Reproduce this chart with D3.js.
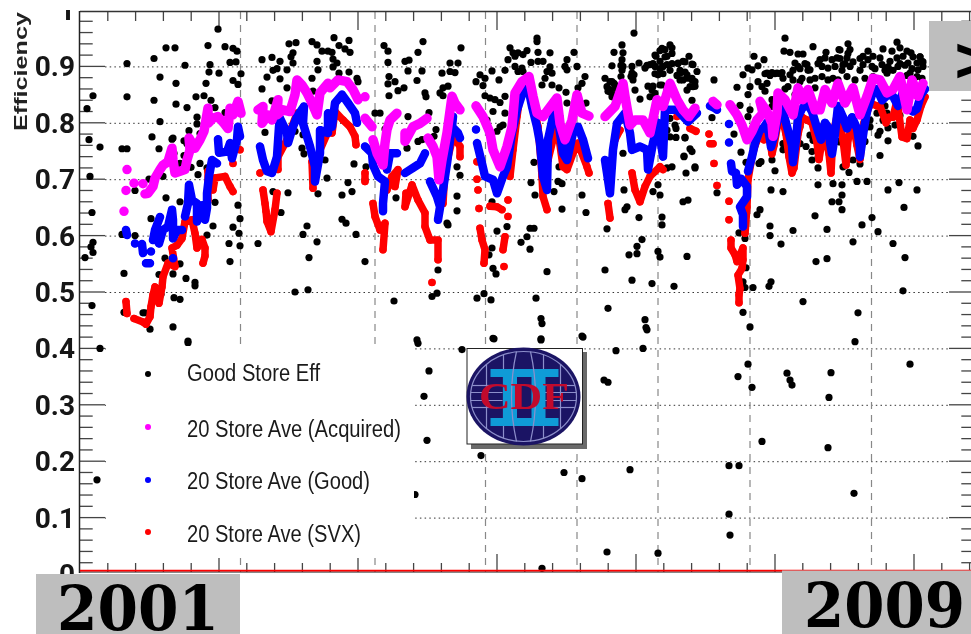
<!DOCTYPE html>
<html><head><meta charset="utf-8">
<script src="https://cdn.jsdelivr.net/npm/d3@7/dist/d3.min.js"></script>
<style>html,body{margin:0;padding:0;background:#fff;overflow:hidden}svg{display:block;filter:blur(.4px)}</style>
</head><body><svg id="c" width="971" height="634"></svg>
<script>
const yTickLabels=["0","0.1","0.2","0.3","0.4","0.5","0.6","0.7","0.8","0.9","1"];
const yearLabels=["2001","2009"];
const legendLabels=["Good Store Eff","20 Store Ave (Acquired)","20 Store Ave (Good)","20 Store Ave (SVX)"];
const seriesColors=["#000000","#ff00ff","#0000ff","#ff0000"];
const storeBreaks=[160.5,295,405.5,497,578,670,791.5];

const goodStoreEff=[[47,.905],[13,.848],[7,.825],[47,.846],[74,.914],[86,.933],[95,.933],[80,.881],[105,.902],[96,.87],[74,.84],[96,.833],[107,.827],[80,.802],[72,.775],[79,.754],[92,.771],[93,.773],[20,.757],[9,.77],[42,.754],[47,.754],[10,.705],[12,.641],[55,.68],[69,.7],[83,.705],[86,.667],[100,.66],[71,.63],[42,.602],[55,.6],[13,.588],[11,.58],[13,.57],[5,.561],[85,.56],[100,.55],[44,.533],[93,.532],[79,.531],[106,.524],[115,.517],[115,.511],[94,.49],[100,.487],[81,.496],[12,.476],[44,.464],[63,.463],[65,.463],[70,.434],[93,.438],[108,.413],[20,.4],[108,.41],[17,.167],
[138,.966],[128,.937],[145,.935],[153,.932],[157,.927],[130,.903],[150,.907],[156,.908],[129,.89],[139,.888],[161,.887],[126,.87],[153,.875],[158,.868],[116,.846],[124,.848],[131,.84],[135,.827],[145,.818],[117,.81],[117,.798],[109,.786],[120,.781],[104,.768],[107,.763],[94,.746],[104,.742],[100,.728],[120,.728],[111,.721],[127,.72],[118,.708],[135,.659],[158,.654],[160,.63],[133,.617],[153,.615],[159,.604],[127,.601],[149,.586],[160,.582],[150,.554],
[182,.912],[192,.916],[200,.909],[209,.94],[216,.942],[213,.924],[211,.917],[213,.906],[207,.894],[197,.896],[193,.893],[187,.881],[200,.878],[182,.86],[207,.862],[192,.839],[185,.783],[178,.586],[193,.678],[208,.676],[201,.641],[227,.617],[223,.602],[237,.589],[229,.561],[215,.5],[228,.504],[232,.944],[237,.938],[242,.927],[237,.909],[248,.927],[238,.894],[232,.879],[233,.856],[215,.785],[223,.779],[222,.755],[224,.745],[245,.734],[238,.674],[247,.702],
[254,.951],[269,.946],[259,.937],[265,.931],[270,.925],[252,.925],[253,.913],[257,.906],[253,.899],[259,.888],[269,.89],[277,.879],[278,.873],[304,.937],[308,.927],[343,.944],[338,.925],[381,.933],[308,.907],[325,.909],[329,.911],[328,.892],[342,.892],[309,.882],[370,.906],[378,.906],[370,.891],[375,.889],[362,.888],[337,.875],[315,.873],[308,.869],[318,.857],[324,.862],[309,.848],[345,.853],[346,.846],[363,.862],[360,.853],[368,.865],[363,.848],[349,.818],[295,.817],[300,.817],[328,.811],[356,.788],[354,.776],[338,.767],[342,.77],[327,.755],[305,.789],[274,.727],[286,.722],[285,.699],[268,.694],[272,.678],[262,.672],[316,.667],[262,.629],[266,.622],[276,.602],[285,.554],[377,.722],[380,.707],[377,.67],[377,.644],[367,.622],[368,.619],[358,.539],[357,.498],[352,.492],[314,.484],[337,.415],
[396,.873],[400,.885],[405,.879],[403,.866],[412,.892],[425,.893],[419,.876],[405,.848],[410,.844],[415,.841],[420,.836],[425,.847],[413,.82],[425,.817],[420,.793],[423,.796],[417,.785],[407,.805],[402,.812],[430,.933],[433,.924],[438,.924],[443,.921],[447,.928],[428,.912],[435,.918],[457,.95],[457,.944],[458,.925],[470,.924],[458,.909],[463,.909],[451,.907],[435,.9],[442,.897],[443,.891],[438,.891],[470,.899],[467,.891],[472,.888],[487,.912],[485,.9],[487,.894],[494,.925],[497,.9],[505,.882],[502,.87],[465,.879],[472,.867],[462,.867],[479,.862],[486,.854],[498,.862],[506,.835],[487,.835],[480,.81],[454,.73],[451,.694],[479,.722],[478,.696],[482,.692],[474,.678],[502,.672],[506,.641],[455,.672],[482,.647],[450,.613],[454,.613],[447,.598],[441,.588],[450,.576],[467,.536],[413,.542],[416,.532],[412,.578],[409,.566],[417,.608],[427,.616],[412,.66],[404,.497],[397,.489],[411,.486],[456,.489],[461,.453],[462,.444],[461,.417],[413,.418],[502,.422],
[554,.959],[542,.938],[534,.925],[543,.924],[542,.912],[543,.9],[532,.901],[552,.9],[559,.906],[552,.888],[554,.885],[525,.879],[532,.873],[535,.867],[530,.859],[533,.85],[528,.856],[560,.842],[580,.928],[585,.93],[592,.933],[576,.918],[580,.909],[587,.918],[565,.897],[570,.903],[575,.9],[583,.9],[587,.903],[578,.885],[598,.906],[603,.909],[609,.918],[613,.903],[600,.888],[607,.885],[568,.865],[573,.865],[580,.867],[587,.859],[603,.876],[612,.876],[615,.865],[617,.891],[543,.746],[592,.722],[587,.72],[604,.74],[612,.749],[615,.72],[606,.711],[595,.796],[605,.773],[578,.69],[580,.672],[573,.678],[544,.681],[603,.66],[608,.663],[545,.646],[547,.651],[559,.632],[582,.633],[582,.619],[527,.612],[562,.593],[557,.581],[549,.566],[557,.568],[578,.572],[580,.562],[607,.563],[525,.539],[552,.521],[572,.515],[594,.51],[528,.471],[565,.451],[566,.437],
[567,.902],[573,.905],[575,.92],[582,.932],[590,.938],[592,.923],[585,.917],[592,.905],[580,.896],[575,.887],[583,.887],[590,.893],[605,.908],[598,.905],[612,.904],[600,.893],[605,.89],[597,.884],[600,.876],[607,.879],[612,.879],[615,.873],[530,.873],[534,.87],[527,.864],[530,.855],[536,.861],[532,.846],[553,.876],[555,.858],[572,.858],[582,.867],[570,.846],[575,.852],[607,.858],[610,.864],[613,.864],[612,.84],[551,.882],[541,.882],[541,.902],[542,.893],[596,.79],[587,.787],[596,.774],[605,.774],[590,.775],[590,.808],[610,.754],[604,.741],[615,.722],
[634,.876],[632,.809],[637,.676],[660,.831],[654,.78],[661,.748],[666,.73],[659,.605],[665,.595],[666,.543],[663,.518],[665,.508],[673,.508],[663,.464],[670,.438],
[705,.95],[733,.935],[704,.927],[710,.925],[674,.918],[684,.912],[718,.922],[723,.922],[746,.925],[768,.94],[759,.93],[770,.93],[817,.943],[803,.931],[788,.927],[812,.927],[820,.933],[827,.927],[831,.924],[840,.917],[668,.897],[663,.885],[672,.894],[678,.901],[687,.888],[692,.889],[697,.888],[702,.889],[715,.906],[718,.9],[727,.903],[730,.894],[740,.912],[745,.915],[752,.912],[757,.915],[742,.9],[748,.897],[755,.9],[710,.885],[767,.915],[763,.903],[770,.9],[783,.918],[788,.912],[793,.918],[783,.903],[792,.9],[800,.915],[802,.903],[810,.909],[817,.915],[823,.918],[810,.894],[818,.9],[828,.906],[837,.906],[842,.909],[838,.894],[843,.9],[830,.888],[678,.873],[670,.864],[668,.85],[657,.863],[682,.864],[685,.856],[692,.841],[692,.829],[670,.823],[668,.811],[703,.879],[708,.864],[720,.873],[730,.876],[735,.862],[742,.882],[748,.876],[753,.879],[758,.876],[767,.882],[775,.876],[785,.879],[793,.882],[807,.888],[820,.882],[705,.86],[715,.85],
[725,.905],[738,.905],[760,.929],[768,.923],[760,.914],[765,.905],[773,.908],[780,.914],[808,.899],[820,.905],[825,.902],[833,.917],[840,.917],[843,.908],[832,.896],[813,.893],[805,.893],[795,.896],[780,.893],[762,.893],[728,.893],[720,.896],[713,.893],[685,.887],[690,.884],[695,.887],[700,.887],[735,.879],[722,.879],[713,.876],[687,.87],[795,.879],[827,.884],[837,.882],[842,.879],
[703,.763],[703,.752],[720,.763],[726,.758],[732,.749],[732,.734],[681,.731],[679,.728],[692,.734],[695,.715],[703,.678],[691,.681],[738,.738],[738,.72],[738,.69],[753,.692],[762,.69],[777,.696],[787,.696],[773,.734],[780,.727],[769,.712],[763,.722],[758,.767],[785,.767],[800,.742],[808,.768],[819,.694],[808,.681],[837,.681],[789,.793],[790,.805],[800,.785],[808,.791],[815,.796],[820,.813],[797,.817],[805,.83],[807,.817],[833,.776],[823,.776],[838,.759],[762,.672],[759,.66],[752,.66],[762,.646],[691,.518],[689,.51],[680,.646],[677,.637],[690,.617],[690,.6],[713,.609],[701,.585],[735,.635],[747,.611],[736,.554],[747,.559],[723,.483],[782,.619],[792,.632],[798,.607],[773,.589],[813,.586],[824,.65],[825,.561],[823,.502],[778,.463],
[707,.784],[720,.793],[730,.778],[733,.769],[760,.766],[790,.793],[798,.778],[803,.805],[775,.796],
[536,.396],[563,.4],[567,.433],[775,.412],[668,.372],[658,.35],[672,.331],[707,.356],[710,.344],[712,.335],[751,.357],[749,.313],[830,.372],[524,.344],[528,.34],[682,.235],[748,.224],[550,.185],[649,.192],[659,.192],[774,.143],[649,.106],[650,.069],[527,.039],[578,.037],
[338,.409],[382,.398],[349,.36],[344,.315],[347,.237],[401,.21],[484,.18],[502,.169],[335,.141],[414,.417],[461,.415],[503,.42],[462,.01]];

const aveAcquired=[[44,.643],null,[46,.68],null,[47,.717],null,[54,.693],null,[63,.692],null,
[65,.674],[68,.675],[73,.687],[75,.702],[80,.717],[83,.725],[88,.731],[92,.755],[93,.734],[95,.711],[100,.714],[105,.717],[107,.734],[110,.752],[109,.773],[115,.755],[120,.77],[124,.785],[128,.826],[128,.799],[133,.808],[138,.811],[144,.799],[148,.79],[150,.826],[153,.814],[158,.838],[161,.817],null,
[178,.823],[183,.829],[182,.799],[188,.814],[192,.805],[198,.841],[197,.814],[203,.823],[210,.82],[215,.85],[217,.876],[222,.867],[227,.853],[232,.835],[237,.814],[240,.853],[248,.87],[250,.862],[258,.876],[267,.873],[273,.859],[278,.841],null,[285,.846],null,[285,.808],[292,.793],null,
[293,.77],[297,.746],[303,.725],[305,.764],[307,.788],[310,.805],[317,.817],null,
[325,.782],[325,.767],[333,.793],[340,.799],[347,.808],null,[348,.773],[353,.758],[357,.74],[359,.699],[362,.734],[367,.782],[372,.847],[375,.835],[380,.823],null,
[396,.83],[403,.811],[410,.782],[413,.752],[420,.722],[427,.758],[432,.793],[435,.853],[442,.873],[449,.882],[453,.847],[457,.817],[463,.811],[468,.823],[477,.844],[480,.799],[485,.77],[492,.805],[497,.85],[502,.817],[509,.812],null,
[525,.811],[535,.829],[543,.87],[545,.847],[550,.796],[555,.805],[563,.805],[570,.782],[577,.841],[583,.829],[590,.87],[597,.841],[603,.823],[609,.811],[615,.826],null,
[633,.838],[637,.832],null,
[650,.832],[657,.814],[662,.796],[667,.77],[672,.785],[677,.805],[683,.817],[680,.838],[687,.82],[692,.799],[693,.776],[697,.817],[698,.853],[705,.841],[713,.814],[718,.862],[723,.841],[728,.859],[735,.823],[740,.823],[745,.859],[752,.835],[758,.87],[765,.835],[773,.862],[780,.814],[787,.847],[793,.879],[800,.876],[807,.853],[813,.859],[820,.882],[827,.823],[832,.876],[838,.847],[843,.87]];

const aveGood=[[46,.61],[47,.601],null,[55,.586],null,[62,.585],[63,.569],null,[71,.572],null,[66,.551],[70,.551],null,
[73,.592],[75,.61],[80,.633],null,[79,.586],[83,.61],[88,.616],[92,.646],[93,.628],[93,.595],[97,.61],[102,.61],null,[93,.56],null,
[105,.634],[108,.657],[109,.69],[112,.663],[117,.657],[117,.625],[122,.654],[125,.628],[127,.649],[127,.675],[129,.705],[132,.734],[137,.728],null,[138,.771],[139,.747],[147,.749],[150,.764],[152,.737],[157,.77],[158,.793],[160,.776],null,
[180,.758],[183,.734],[187,.714],[192,.711],[197,.74],[199,.793],[200,.808],[207,.782],[208,.764],[213,.793],[217,.811],[224,.829],[223,.799],[230,.758],[235,.722],[235,.696],[240,.746],[240,.787],[248,.782],[248,.817],[252,.793],[255,.835],[262,.85],[268,.835],[275,.817],[277,.8],null,
[285,.758],[292,.746],[293,.725],[298,.705],[305,.696],[303,.657],[303,.643],null,[307,.717],[310,.746],[317,.746],null,
[325,.711],[333,.72],[340,.728],[345,.746],null,[350,.696],[357,.669],[360,.651],[358,.628],[363,.681],[367,.728],[373,.811],[372,.793],[378,.782],[380,.773],null,
[396,.788],null,[397,.764],[402,.728],[405,.705],[413,.699],[417,.675],[423,.705],[427,.722],[432,.782],[437,.823],[442,.85],[448,.864],[452,.829],[457,.793],[460,.764],[463,.705],[467,.681],[468,.77],[473,.811],[477,.823],[480,.782],[483,.746],[487,.734],[493,.782],[498,.793],[503,.77],[508,.737],null,
[525,.734],[527,.711],[530,.675],[533,.752],[537,.799],[545,.817],[550,.782],[552,.752],[560,.758],[567,.752],[568,.717],[573,.764],[578,.8],[583,.74],[585,.823],[597,.823],[608,.802],[617,.817],null,
[630,.83],[635,.826],[637,.823],null,
[649,.798],null,[649,.765],null,[651,.728],[652,.714],[656,.711],[657,.69],null,[661,.701],[667,.687],[667,.669],[660,.651],[663,.637],[663,.616],null,
[668,.714],[672,.74],[675,.764],[680,.788],[683,.79],[687,.8],[690,.77],[691,.757],[694,.775],[698,.81],[702,.825],[706,.8],[709,.78],[712,.76],[713,.73],[716,.77],[718,.81],[722,.825],[727,.835],[732,.82],[738,.785],[741,.77],[745,.8],[749,.79],[750,.765],[752,.745],[755,.78],[758,.83],[763,.81],[767,.79],[772,.81],[777,.79],[780,.755],[780,.74],[784,.79],[787,.82],[792,.85],[797,.86],[802,.84],[808,.85],[813,.847],[818,.83],[823,.855],[828,.825],[833,.82],[837,.825],[841,.85],[845,.86]];

const aveSVX=[[46,.483],[47,.462],null,[54,.453],[63,.447],[66,.443],[70,.456],[71,.474],[73,.495],[75,.509],[79,.48],[82,.509],[83,.527],[88,.551],[95,.545],[92,.578],[97,.583],[102,.595],[105,.625],[112,.628],[115,.604],[117,.578],[122,.593],[125,.578],[125,.564],[123,.551],null,
[128,.663],[128,.714],[133,.681],[135,.702],[145,.705],[150,.687],[153,.678],null,[153,.728],null,[160,.752],null,
[180,.711],null,[183,.681],[185,.657],[186,.643],[187,.625],[191,.607],[195,.646],[197,.675],null,[198,.717],[198,.74],[207,.77],[217,.817],null,[232,.731],[233,.684],null,[240,.752],[248,.784],[252,.782],[255,.82],[263,.805],[270,.793],[275,.776],[276,.761],null,
[285,.711],[285,.696],null,[293,.657],[295,.634],[300,.61],[305,.622],[303,.575],null,[307,.681],[312,.705],[318,.717],[315,.687],null,
[326,.675],[325,.651],[332,.69],[338,.663],[345,.64],[345,.616],[350,.592],[358,.592],[358,.557],null,[352,.517],null,[363,.657],[365,.717],[373,.776],[380,.758],[380,.74],null,
[397,.731],null,[397,.7],null,[398,.681],null,[399,.648],null,[400,.613],[402,.592],[405,.575],[404,.551],null,[410,.652],[417,.651],[422,.646],null,[428,.663],null,[428,.634],null,[425,.598],[423,.575],null,[424,.545],null,[430,.705],[433,.752],[437,.811],[440,.847],[449,.864],[453,.835],[458,.793],[461,.731],[462,.705],[463,.669],[467,.646],null,[468,.758],[468,.734],[477,.799],[483,.722],[487,.717],[493,.746],[498,.764],[507,.722],[509,.711],null,
[528,.657],[530,.631],null,[535,.77],[540,.787],null,[552,.711],[555,.681],[560,.66],[565,.687],[570,.705],[580,.722],[583,.717],null,[597,.811],null,[610,.79],[616,.785],null,
[629,.78],null,[630,.763],[633,.763],null,[634,.728],null,[637,.689],null,
[649,.661],null,[649,.628],null,[651,.592],[651,.578],[655,.566],[657,.554],[663,.578],[663,.557],[662,.542],[658,.53],[660,.506],[659,.495],[659,.481],null,
[665,.604],[667,.651],[668,.699],[672,.74],[675,.76],[680,.78],[684,.77],[688,.79],[692,.745],[694,.76],[698,.8],[702,.81],[706,.78],[709,.74],[712,.711],[714,.72],[718,.78],[722,.81],[727,.805],[732,.8],[737,.765],[739,.735],[744,.79],[749,.745],[751,.711],[753,.78],[758,.82],[763,.77],[766,.725],[768,.77],[773,.8],[777,.76],[780,.735],[784,.8],[790,.835],[797,.83],[800,.83],[806,.8],[809,.81],[813,.81],[817,.84],[822,.775],[827,.772],[830,.805],[833,.79],[837,.805],[841,.83],[845,.846]];

const svg=d3.select("#c");
const x=d3.scaleLinear().domain([0,894]).range([80,974]);
const y=d3.scaleLinear().domain([0,1]).range([574,10]);
const BL=80,BT=12,BB=572,BR=974;

svg.append("g").selectAll("line").data(d3.range(1,10).map(d=>d/10)).join("line")
 .attr("x1",105).attr("x2",949).attr("y1",d=>y(d)+.5).attr("y2",d=>y(d)+.5)
 .attr("stroke","#333").attr("stroke-width",1).attr("stroke-dasharray","1.5 3.2");
svg.append("g").selectAll("line").data(storeBreaks).join("line")
 .attr("x1",d=>x(d)).attr("x2",d=>x(d)).attr("y1",BT).attr("y2",BB)
 .attr("stroke","#888").attr("stroke-width",1.2).attr("stroke-dasharray","7 6");
const minorY=d3.range(1,50).map(d=>d/50);
svg.append("g").selectAll("line").data(minorY).join("line")
 .attr("x1",BL).attr("x2",d=>BL+(Math.abs(d*10-Math.round(d*10))<1e-6?25:12.7)).attr("y1",d=>y(d)).attr("y2",d=>y(d))
 .attr("stroke","#444").attr("stroke-width",1.3);
svg.append("g").selectAll("line").data(minorY).join("line")
 .attr("x1",BR).attr("x2",d=>BR-(Math.abs(d*10-Math.round(d*10))<1e-6?25:12.7)).attr("y1",d=>y(d)).attr("y2",d=>y(d))
 .attr("stroke","#444").attr("stroke-width",1.3);
const xTicks=d3.range(1,33);
const tickStep=27.8;
[[BT,1],[BB,-1]].forEach(([y0,s])=>{
 svg.append("g").selectAll("line").data(xTicks).join("line")
  .attr("x1",d=>x(d*tickStep)).attr("x2",d=>x(d*tickStep)).attr("y1",y0)
  .attr("y2",d=>y0+s*(d%5===0?18:9)).attr("stroke","#444").attr("stroke-width",1.3);
});

function band(data,color,w){
 const g=svg.append("g");
 g.append("path").attr("d",d3.line().defined(d=>d).x(d=>x(d[0])).y(d=>y(d[1]))(data))
  .attr("fill","none").attr("stroke",color).attr("stroke-width",w).attr("stroke-linejoin","round").attr("stroke-linecap","round");
 g.selectAll("circle").data(data.filter(d=>d)).join("circle")
  .attr("cx",d=>x(d[0])).attr("cy",d=>y(d[1])).attr("r",3.7).attr("fill",color);
}
svg.append("g").selectAll("circle").data(goodStoreEff).join("circle")
 .attr("cx",d=>x(d[0])).attr("cy",d=>y(d[1])).attr("r",3.6).attr("fill",seriesColors[0]);
band(aveSVX,seriesColors[3],7.5);
band(aveGood,seriesColors[2],8.5);
band(aveAcquired,seriesColors[1],9.5);

svg.append("line").attr("x1",BL).attr("x2",BR).attr("y1",BT-.5).attr("y2",BT-.5).attr("stroke","#333").attr("stroke-width",1.5);
svg.append("line").attr("x1",BL-.5).attr("x2",BL-.5).attr("y1",BT-1).attr("y2",BB+1).attr("stroke","#222").attr("stroke-width",1.5);
svg.append("line").attr("x1",BL).attr("x2",BR).attr("y1",BB).attr("y2",BB).attr("stroke","#111").attr("stroke-width",1);
svg.append("line").attr("x1",BL).attr("x2",BR).attr("y1",570.6).attr("y2",570.6).attr("stroke","#f00").attr("stroke-width",1.8);

svg.append("rect").attr("x",106).attr("y",346).attr("width",308).attr("height",212).attr("fill","#fff");
const legY=[374,427,480,532],legTextY=[373,429,481,534],legW=[133,214,183,174];
legendLabels.forEach((t,i)=>{
 svg.append("circle").attr("cx",148).attr("cy",legY[i]).attr("r",3).attr("fill",seriesColors[i]);
 svg.append("text").attr("x",187).attr("y",legTextY[i]).attr("dy",".36em").text(t)
  .attr("font-family","Liberation Sans").attr("font-size",23).attr("fill","#1a1a1a")
  .attr("textLength",legW[i]).attr("lengthAdjust","spacingAndGlyphs");
});

const defs=svg.append("defs");
defs.append("clipPath").attr("id","topclip").append("rect").attr("x",0).attr("y",10).attr("width",100).attr("height",40);
yTickLabels.forEach((t,i)=>{
 const l=svg.append("text").attr("x",75).attr("y",y(i/10)).attr("dy",".36em").attr("text-anchor","end").text(t)
  .attr("font-family","Roboto").attr("font-weight",700).attr("font-size",28).attr("fill","#161616");
 if(t==="1")l.attr("clip-path","url(#topclip)");
});
svg.append("text").attr("transform","translate(27,131) rotate(-90)").text("Efficiency")
 .attr("font-family","Liberation Sans").attr("font-weight","bold").attr("font-size",19).attr("fill","#222")
 .attr("textLength",119).attr("lengthAdjust","spacingAndGlyphs");

const lg=svg.append("g");
lg.append("rect").attr("x",471).attr("y",352).attr("width",116).attr("height",97).attr("fill","#6a6a6a");
lg.append("rect").attr("x",467).attr("y",348.5).attr("width",115.5).attr("height",95.5).attr("fill","#fff").attr("stroke","#222").attr("stroke-width",1);
const cx=523.5,cy=396.5,lc="#8d8fcb";
lg.append("ellipse").attr("cx",cx).attr("cy",cy).attr("rx",57).attr("ry",49).attr("fill","#1b1464");
lg.append("ellipse").attr("cx",cx).attr("cy",cy).attr("rx",53).attr("ry",45).attr("fill","none").attr("stroke",lc).attr("stroke-width",1.2);
[-37,-20,20,37].forEach(d=>lg.append("line").attr("x1",cx+d).attr("x2",cx+d).attr("y1",cy-Math.sqrt(1-(d/53)**2)*45).attr("y2",cy+Math.sqrt(1-(d/53)**2)*45).attr("stroke",lc).attr("stroke-width",1.2));
[-11,-4,4,11].forEach(d=>{const e=Math.sqrt(1-(d/45)**2)*53;
 [[cx-e,cx-21],[cx+21,cx+e]].forEach(p=>lg.append("line").attr("x1",p[0]).attr("x2",p[1]).attr("y1",cy+d).attr("y2",cy+d).attr("stroke",lc).attr("stroke-width",1.2));});
lg.selectAll(".ii").data([[490.5,369,68,8],[490.5,418,68,8],[503,369,14,57],[531.5,369,14,57]]).join("rect")
 .attr("x",d=>d[0]).attr("y",d=>d[1]).attr("width",d=>d[2]).attr("height",d=>d[3]).attr("fill","#0f9bd7");
[-1,1].forEach(s=>lg.append("path").attr("d",`M${cx+s*7},${cy-45} Q${cx+s*17},${cy} ${cx+s*7},${cy+45}`).attr("fill","none").attr("stroke",lc).attr("stroke-width",1.2));
lg.append("text").attr("x",524).attr("y",396).attr("dy",".34em").attr("text-anchor","middle").text("CDF")
 .attr("font-family","Liberation Serif").attr("font-weight","bold").attr("font-size",38).attr("fill","#c20a2c")
 .attr("textLength",90).attr("lengthAdjust","spacingAndGlyphs");

const boxes=[[36,574,204,60,57,630,162],[782,570.5,189,64,804,627,161]];
boxes.forEach((b,i)=>{
 svg.append("rect").attr("x",b[0]).attr("y",b[1]).attr("width",b[2]).attr("height",b[3]).attr("fill","#bebebe");
 svg.append("text").attr("x",b[4]).attr("y",b[5]).text(yearLabels[i])
  .attr("font-family","DejaVu Serif").attr("font-weight","bold").attr("font-size",61).attr("fill","#000")
  .attr("textLength",b[6]).attr("lengthAdjust","spacingAndGlyphs");
});
svg.append("rect").attr("x",929).attr("y",21).attr("width",42).attr("height",70).attr("fill","#bebebe");
svg.append("text").attr("x",951).attr("y",80).text(">")
 .attr("font-family","DejaVu Sans").attr("font-weight","bold").attr("font-size",60).attr("fill","#000");
</script></body></html>
